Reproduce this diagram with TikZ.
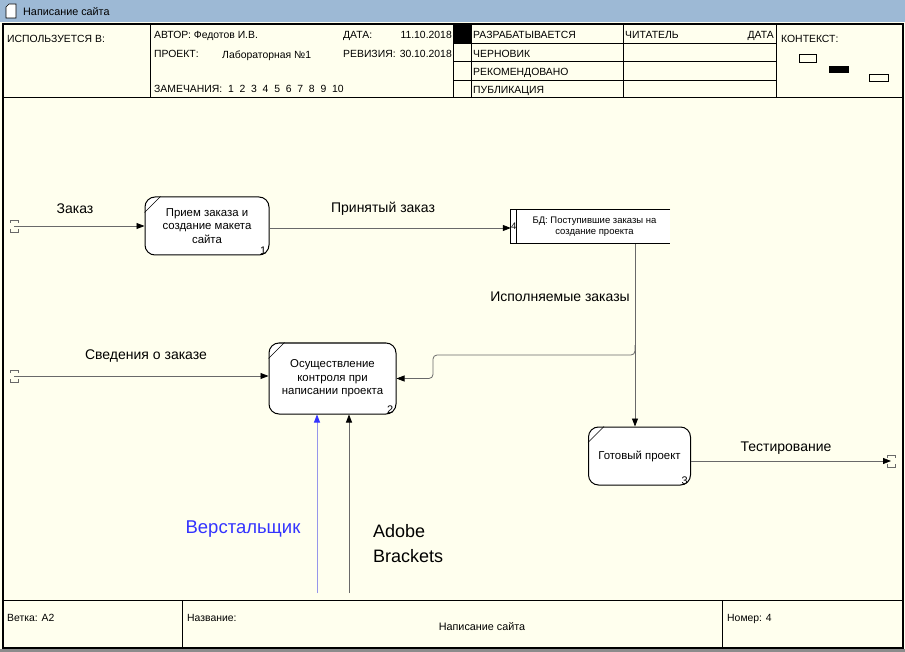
\documentclass[tikz,border=0pt]{standalone}
\usepackage{fontspec}
\setmainfont{Liberation Sans}
\usetikzlibrary{arrows.meta,calc,positioning}
\definecolor{paper}{RGB}{255,255,238}
\definecolor{titlebar}{RGB}{157,185,213}
\definecolor{flowgray}{RGB}{105,105,105}
\definecolor{worker}{RGB}{51,51,255}
\definecolor{workerline}{RGB}{150,150,235}
\tikzset{
  hdr/.style={anchor=base west,inner sep=0pt,font=\fontsize{10.4}{12}\selectfont},
  proc/.style={draw,line width=1pt,fill=white,rounded corners=10pt,align=center,
    font=\fontsize{11.4}{13.5}\selectfont,inner sep=0pt},
  num/.style={anchor=south east,inner xsep=3pt,inner ysep=1pt,font=\fontsize{11}{12}\selectfont},
  flow/.style={draw=flowgray,line width=0.8pt,-{Triangle[length=8pt,width=6pt,color=black]}},
  lbl/.style={inner sep=0pt,font=\fontsize{14}{16}\selectfont},
  tunnel/.pic={\draw[flowgray,line width=0.7pt] (-4,-3)--(-4,-6)--(4,-6)--(4,-3) (-4,3)--(-4,6)--(4,6)--(4,3);}
}
\begin{document}
\begin{tikzpicture}[x=1pt,y=-1pt]
    \useasboundingbox (0,0) rectangle (905,652);
    % window
    \fill[paper] (0,0) rectangle (905,652);
    \fill[titlebar] (0,0) rectangle (905,22);
    \draw[fill=white,line width=0.7pt] (9,4) -- (16,4) -- (16,18) -- (6,18) -- (6,7) -- cycle;
    \node[anchor=west,inner sep=0pt,font=\fontsize{10.8}{12}\selectfont] (title) at (23,12) {Написание сайта};
    \fill[black!45] (0,649) rectangle (905,652);
    \draw[line width=1.6pt] (3,24) rectangle (903,648);

    % header
    \draw[line width=1pt] (3,98) -- (903,98);
    \foreach \x in {150,453,471,623,776} \draw (\x,24) -- (\x,98);
    \foreach \y in {43,61,80} \draw (453,\y) -- (776,\y);
    \fill (453,24) rectangle (471,43);
    \node[hdr] (used) at (7,43) {ИСПОЛЬЗУЕТСЯ В:};
    \node[hdr] (author) at (154,39) {АВТОР: Федотов И.В.};
    \node[hdr] (project) at (154,58) {ПРОЕКТ:};
    \node[hdr] (projname) at (222,59) {Лабораторная №1};
    \node[hdr] (notes) at (154,93) {ЗАМЕЧАНИЯ:\ \ 1\ \ 2\ \ 3\ \ 4\ \ 5\ \ 6\ \ 7\ \ 8\ \ 9\ \ 10};
    \node[hdr] (date) at (343,39) {ДАТА:};
    \node[hdr,anchor=base east] (dateval) at (452,39) {11.10.2018};
    \node[hdr] (rev) at (343,58) {РЕВИЗИЯ:};
    \node[hdr,anchor=base east] (revval) at (452,58) {30.10.2018};
    \node[hdr] (working) at (473,39) {РАЗРАБАТЫВАЕТСЯ};
    \node[hdr] (draft) at (473,58) {ЧЕРНОВИК};
    \node[hdr] (recommended) at (473,76) {РЕКОМЕНДОВАНО};
    \node[hdr] (publication) at (473,94) {ПУБЛИКАЦИЯ};
    \node[hdr] (reader) at (625,39) {ЧИТАТЕЛЬ};
    \node[hdr,anchor=base east] (readerdate) at (774,39) {ДАТА};
    \node[hdr] (context) at (781,43) {КОНТЕКСТ:};
    \draw (799,54) rectangle (816,62);
    \fill (829,66) rectangle (849,73);
    \draw (869,74) rectangle (888,81);

    % footer
    \draw[line width=1pt] (3,600) -- (903,600);
    \foreach \x in {182,722} \draw (\x,600) -- (\x,648);
    \node[hdr] (branch) at (7,621) {Ветка: A2};
    \node[hdr] (name) at (187,621) {Название:};
    \node[inner sep=0pt,font=\fontsize{10.8}{12}\selectfont] (nameval) at (482,627) {Написание сайта};
    \node[hdr] (number) at (727,621) {Номер: 4};

    % processes
    \node[proc,minimum width=124pt,minimum height=58pt] (p1) at (207,226) {Прием заказа и\\создание макета\\сайта};
    \node[proc,minimum width=127pt,minimum height=71pt] (p2) at (332.5,378.5) {Осуществление\\контроля при\\написании проекта};
    \node[proc,minimum width=102pt,minimum height=58pt] (p3) at (639.5,456) {Готовый проект};
    \foreach \p/\n in {p1/1,p2/2,p3/3} {
        \draw ($(\p.north west)+(0,16)$) -- ($(\p.north west)+(16,0)$);
        \node[num] at (\p.south east) {\n};
    }

    % data store
    \node[minimum width=159pt,minimum height=34pt,inner sep=0pt,align=center,
        font=\fontsize{9.5}{11}\selectfont,fill=white] (ds) at (590.5,226.5) {\hspace*{8pt}БД: Поступившие заказы на\\\hspace*{8pt}создание проекта};
    \draw[line width=0.8pt] (ds.north east) -- (ds.north west) -- (ds.south west) -- (ds.south east);
    \draw ($(ds.north west)+(5,0)$) -- ($(ds.south west)+(5,0)$);
    \node[inner sep=0pt,font=\fontsize{9.5}{11}\selectfont] (dsnum) at ($(ds.west)+(3,0)$) {4};

    % flows
    \coordinate (tin1) at (14,226);
    \coordinate (tin2) at (14,376);
    \coordinate (tout) at (891,461);
    \pic at (tin1) {tunnel};
    \pic at (tin2) {tunnel};
    \pic at (tout) {tunnel};
    \draw[flow] (tin1) -- (tin1 -| p1.west);
    \node[lbl] (order) at (75,209) {Заказ};
    \draw[flow] (p1.east |- 0,228) -- (ds.west |- 0,228);
    \node[lbl] (accepted) at (383,209) {Принятый заказ};
    \coordinate (dsout) at (635,244);
    \draw[flow] (dsout) -- (dsout |- p3.north);
    \node[lbl] (inwork) at (560,297) {Исполняемые заказы};
    \coordinate (br) at (635,345);
    \draw[flow,rounded corners=4pt] (br) |- (433,355) |- (p2.east);
    \draw[flow] (tin2) -- (tin2 -| p2.west);
    \node[lbl] (details) at (146,356) {Сведения о заказе};
    \draw[flow] (p3.east |- tout) -- (tout);
    \node[lbl] (testing) at (786,448) {Тестирование};

    % mechanisms
    \coordinate (m1) at (317,593);
    \coordinate (m2) at (349,593);
    \draw[draw=workerline,line width=0.8pt,-{Triangle[length=8pt,width=6pt,color=worker]}] (m1) -- (m1 |- p2.south);
    \draw[flow] (m2) -- (m2 |- p2.south);
    \node[inner sep=0pt,text=worker,font=\fontsize{18.5}{20}\selectfont] (typesetter) at (243,529) {Верстальщик};
    \node[inner sep=0pt,anchor=north west,align=left,font=\fontsize{18}{25}\selectfont] (tool) at (373,524) {Adobe\\Brackets};
\end{tikzpicture}
\end{document}
